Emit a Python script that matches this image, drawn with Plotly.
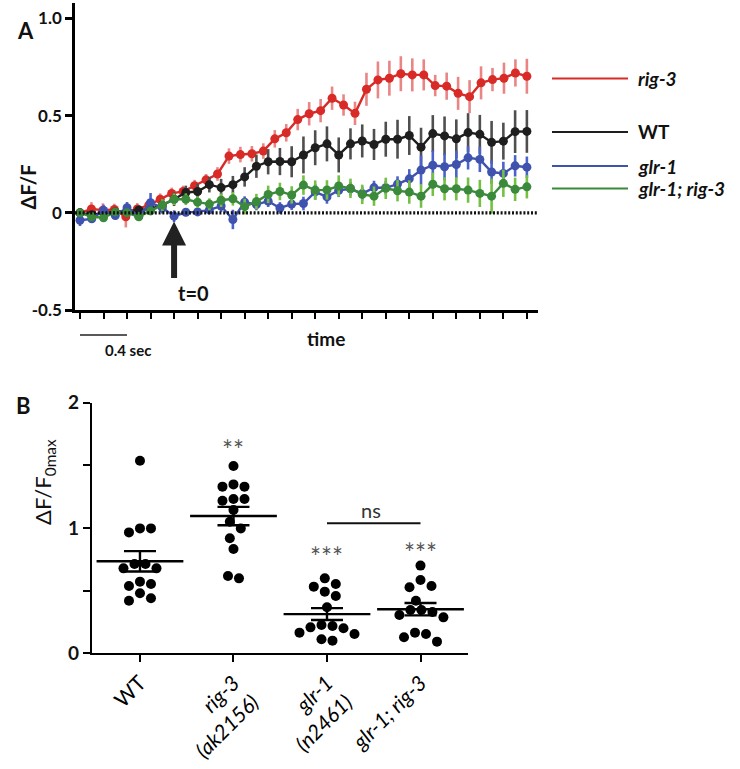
import numpy as np
import plotly.graph_objects as go

# ---------------- Panel A: calcium traces ----------------
# frame times (s); rig-3 was sampled at 40 frames over the same window
t = np.round(np.arange(-0.8, 3.05, 0.1), 1)
t_red = np.linspace(-0.8, 3.0, 40)

rig3 = [0.0, 0.02, 0.014, 0.017, -0.02, 0.02, 0.04, 0.07, 0.10, 0.11,
        0.14, 0.17, 0.20, 0.292, 0.30, 0.304, 0.318, 0.381, 0.412, 0.48,
        0.51, 0.526, 0.59, 0.555, 0.512, 0.636, 0.684, 0.693, 0.716, 0.71,
        0.71, 0.655, 0.652, 0.615, 0.598, 0.669, 0.686, 0.693, 0.72, 0.703]
rig3_err = [0.025, 0.035, 0.035, 0.03, 0.055, 0.03, 0.03, 0.03, 0.03, 0.03,
            0.03, 0.03, 0.035, 0.04, 0.04, 0.04, 0.04, 0.045, 0.045, 0.055,
            0.06, 0.06, 0.06, 0.055, 0.06, 0.085, 0.095, 0.09, 0.09, 0.085,
            0.08, 0.055, 0.07, 0.085, 0.085, 0.085, 0.06, 0.08, 0.07, 0.09]

wt = [0.0, -0.01, 0.0, 0.005, 0.01, 0.015, 0.02, 0.04, 0.07, 0.105,
      0.11, 0.145, 0.13, 0.145, 0.185, 0.24, 0.263, 0.264, 0.263, 0.298,
      0.335, 0.355, 0.298, 0.355, 0.37, 0.352, 0.379, 0.379, 0.398, 0.338,
      0.408, 0.396, 0.381, 0.413, 0.404, 0.363, 0.369, 0.418, 0.419]
wt_err = [0.02, 0.02, 0.02, 0.02, 0.02, 0.02, 0.025, 0.03, 0.035, 0.035,
          0.04, 0.04, 0.045, 0.045, 0.05, 0.06, 0.065, 0.07, 0.08, 0.095,
          0.09, 0.09, 0.09, 0.08, 0.085, 0.08, 0.09, 0.1, 0.1, 0.1,
          0.095, 0.1, 0.1, 0.1, 0.1, 0.11, 0.095, 0.11, 0.11]

glr1 = [-0.038, -0.031, 0.012, -0.014, 0.026, -0.017, 0.052, 0.026, -0.017, 0.003,
        0.005, 0.015, 0.035, -0.034, 0.055, 0.043, 0.06, 0.025, 0.045, 0.048,
        0.108, 0.082, 0.116, 0.124, 0.099, 0.13, 0.129, 0.148, 0.175, 0.22,
        0.245, 0.237, 0.249, 0.283, 0.275, 0.21, 0.203, 0.242, 0.235]
glr1_err = [0.03, 0.02, 0.03, 0.02, 0.03, 0.02, 0.05, 0.03, 0.03, 0.02,
            0.02, 0.02, 0.03, 0.05, 0.03, 0.03, 0.03, 0.03, 0.03, 0.035,
            0.04, 0.035, 0.035, 0.035, 0.035, 0.035, 0.035, 0.04, 0.05, 0.075,
            0.075, 0.07, 0.07, 0.06, 0.065, 0.06, 0.06, 0.055, 0.055]

double = [0.0, -0.02, -0.025, 0.005, 0.0, -0.02, 0.01, 0.04, 0.07, 0.07,
          0.055, 0.045, 0.065, 0.072, 0.032, 0.058, 0.095, 0.11, 0.092, 0.143,
          0.117, 0.118, 0.138, 0.126, 0.095, 0.086, 0.126, 0.114, 0.107, 0.086,
          0.147, 0.124, 0.124, 0.117, 0.10, 0.086, 0.152, 0.121, 0.134]
double_err = [0.02, 0.02, 0.02, 0.02, 0.02, 0.02, 0.02, 0.03, 0.03, 0.03,
              0.03, 0.03, 0.035, 0.035, 0.04, 0.04, 0.045, 0.045, 0.045, 0.05,
              0.05, 0.05, 0.055, 0.05, 0.05, 0.05, 0.055, 0.055, 0.06, 0.06,
              0.06, 0.06, 0.06, 0.065, 0.07, 0.09, 0.07, 0.06, 0.06]

series_names = ["rig-3", "WT", "glr-1", "glr-1; rig-3"]
line_colors = ["#d82a27", "#1e1e1e", "#3f53ae", "#3b8a3b"]
err_colors = ["#e98585", "#4f4f4f", "#4a63c9", "#74c043"]

# ---------------- Panel B: peak responses ----------------
groups = ["WT", "<i>rig-3</i><br><i>(ak2156)</i>", "<i>glr-1</i><br><i>(n2461)</i>", "<i>glr-1; rig-3</i>"]
peak_wt = [1.537, 0.997, 0.965, 0.997, 0.713, 0.678, 0.678, 0.713, 0.553, 0.537, 0.572, 0.479, 0.439, 0.42]
peak_rig3 = [1.495, 1.348, 1.33, 1.33, 1.231, 1.218, 1.231, 1.144, 1.05, 0.997, 0.918, 0.832, 0.598, 0.617]
peak_glr1 = [0.598, 0.553, 0.532, 0.492, 0.457, 0.367, 0.226, 0.207, 0.20, 0.218, 0.154, 0.165, 0.101, 0.112]
peak_double = [0.70, 0.537, 0.527, 0.585, 0.42, 0.346, 0.33, 0.346, 0.287, 0.306, 0.154, 0.165, 0.093, 0.128]
peaks = [peak_wt, peak_rig3, peak_glr1, peak_double]
sig_labels = ["", "**", "***", "***"]

W, H = 740, 769
FA = "Lato"

fig = go.Figure()

# panel A traces
for name, tx, y, e, lc, ec in zip(series_names, [t_red, t, t, t],
                                  [rig3, wt, glr1, double],
                                  [rig3_err, wt_err, glr1_err, double_err],
                                  line_colors, err_colors):
    fig.add_trace(go.Scatter(
        x=tx, y=y, name=name, mode="lines+markers",
        line=dict(color=lc, width=2.4),
        marker=dict(color=lc, size=9),
        error_y=dict(type="data", array=e, color=ec, thickness=2.6, width=0),
        xaxis="x", yaxis="y", showlegend=False, hoverinfo="skip"))

# panel B: beeswarm of dots
XPX = 93.5     # px per category
YPX = 125.3    # px per unit
def swarm(vals, d=10.5, step=5.5):
    vals = np.asarray(vals, float)
    ypx = vals * YPX
    order = np.argsort(-vals, kind="stable")
    offs = np.zeros(len(vals))
    placed = []
    cands = [0.0] + [s * c * step for c in range(1, 30) for s in (1, -1)]
    for i in order:
        for c in cands:
            if all((c - px) ** 2 + (ypx[i] - py) ** 2 >= d * d for px, py in placed):
                break
        offs[i] = c
        placed.append((c, ypx[i]))
    clusters, cur = [], [order[0]]
    for a, b in zip(order[:-1], order[1:]):
        if ypx[a] - ypx[b] < d:
            cur.append(b)
        else:
            clusters.append(cur)
            cur = [b]
    clusters.append(cur)
    for cl in clusters:
        offs[cl] -= offs[cl].mean()
    return offs / XPX

for gi, vals in enumerate(peaks):
    fig.add_trace(go.Scatter(
        x=gi + swarm(vals), y=vals, mode="markers",
        marker=dict(color="black", size=10),
        xaxis="x2", yaxis="y2", showlegend=False, hoverinfo="skip"))

means = [float(np.mean(v)) for v in peaks]
sems = [float(np.std(v, ddof=1) / np.sqrt(len(v))) for v in peaks]
fig.add_trace(go.Scatter(
    x=list(range(len(groups))), y=means, mode="markers",
    marker=dict(symbol="line-ew-open", size=62, color="black",
                line=dict(color="black", width=2.4)),
    error_y=dict(type="data", array=sems, color="black", thickness=2.4, width=16),
    xaxis="x2", yaxis="y2", showlegend=False, hoverinfo="skip"))

def px(x): return x / W
def py(y): return 1 - y / H

shapes = []
annotations = []

# zero baseline (dotted)
shapes.append(dict(type="line", xref="x domain", x0=0, x1=1, yref="y", y0=0, y1=0,
                   line=dict(color="#111", width=3.2, dash="2px,1.8px"), layer="above"))

# legend drawn beside the traces
leg_y = [78.5, 132, 166, 188.5]
for name, lc, ly in zip(series_names, line_colors, leg_y):
    shapes.append(dict(type="line", xref="paper", yref="paper",
                       x0=px(552), x1=px(628), y0=py(ly), y1=py(ly),
                       line=dict(color=lc, width=2)))
    txt = name if name == "WT" else "<i>%s</i>" % name
    annotations.append(dict(text="<b>%s</b>" % txt, xref="paper", yref="paper",
                            x=px(636), y=py(ly), xanchor="left", yanchor="middle",
                            showarrow=False, font=dict(family=FA, size=19, color="#111")))

# stimulus arrow and t=0
annotations.append(dict(text="", x=0, y=-0.045, xref="x", yref="y", ax=0, ay=58,
                        showarrow=True, arrowhead=2, arrowsize=0.8, arrowwidth=6,
                        arrowcolor="#222"))
annotations.append(dict(text="<b>t=0</b>", xref="paper", yref="paper", x=px(176), y=py(293),
                        showarrow=False, font=dict(family=FA, size=20, color="#111")))

# time scale bar
shapes.append(dict(type="line", xref="x", x0=-0.8, x1=-0.4, yref="paper",
                   y0=py(335), y1=py(335), line=dict(color="#222", width=1.6)))
annotations.append(dict(text="<b>0.4 sec</b>", xref="paper", yref="paper", x=px(103), y=py(350),
                        showarrow=False, font=dict(family=FA, size=15, color="#111")))
annotations.append(dict(text="<b>time</b>", xref="paper", yref="paper", x=px(326), y=py(339),
                        showarrow=False, font=dict(family=FA, size=19, color="#111")))
annotations.append(dict(text="<b>ΔF/F</b>", xref="paper", yref="paper", x=px(13), y=py(163),
                        textangle=-90, showarrow=False, font=dict(family=FA, size=20, color="#111")))
annotations.append(dict(text="<b>A</b>", xref="paper", yref="paper", x=px(15), y=py(15),
                        showarrow=False, font=dict(family=FA, size=22, color="#111")))
annotations.append(dict(text="<b>B</b>", xref="paper", yref="paper", x=px(14), y=py(405),
                        showarrow=False, font=dict(family=FA, size=22, color="#111")))
annotations.append(dict(text="ΔF/F<sub>0max</sub>", xref="paper", yref="paper", x=px(27), y=py(527),
                        textangle=-90, showarrow=False, font=dict(family=FA, size=22, color="#111")))

# significance marks
sig_y = [0, 1.62, 0.77, 0.80]
for gi, s in enumerate(sig_labels):
    if s:
        annotations.append(dict(text=s, x=gi, y=sig_y[gi], xref="x2", yref="y2",
                                showarrow=False, yanchor="middle",
                                font=dict(family=FA, size=26, color="#555")))
shapes.append(dict(type="line", xref="x2", yref="y2", x0=2, x1=3, y0=1.037, y1=1.037,
                   line=dict(color="#111", width=2)))
annotations.append(dict(text="ns", x=2.47, y=1.14, xref="x2", yref="y2", showarrow=False,
                        font=dict(family=FA, size=20, color="#333")))

axis_common = dict(showgrid=False, zeroline=False, showline=True, linecolor="black",
                   ticks="outside", tickcolor="black", automargin=False)

fig.update_layout(
    template="none",
    width=W, height=H, margin=dict(l=0, r=0, t=0, b=0, pad=0), autosize=False,
    paper_bgcolor="white", plot_bgcolor="white", showlegend=False,
    xaxis=dict(domain=[px(75), px(538)], range=[-0.8425, 3.0946], anchor="y",
               tickmode="linear", tick0=-0.8, dtick=0.2, showticklabels=False,
               linewidth=2.5, ticklen=6, tickwidth=2, **axis_common),
    yaxis=dict(domain=[py(310), py(3)], range=[-0.5, 1.08], anchor="x",
               tickvals=[-0.5, 0, 0.5, 1.0], ticktext=["<b>-0.5</b>", "<b>0</b>", "<b>0.5</b>", "<b>1.0</b>"],
               tickfont=dict(family=FA, size=17, color="#111"),
               linewidth=2.5, ticklen=7, tickwidth=2.5, **axis_common),
    xaxis2=dict(domain=[px(92), px(468)], range=[-0.513, 3.508], anchor="y2",
                tickvals=list(range(len(groups))), ticktext=groups, tickangle=-45,
                tickfont=dict(family=FA, size=21, color="#000"),
                linewidth=2.2, ticklen=7, tickwidth=2.2, **axis_common),
    yaxis2=dict(domain=[py(653.3), py(402.7)], range=[0, 2], anchor="x2",
                tickvals=[0, 0.5, 1, 1.5, 2], ticktext=["<b>0</b>", "", "<b>1</b>", "", "<b>2</b>"],
                tickfont=dict(family=FA, size=19, color="#111"),
                linewidth=2.2, ticklen=7, tickwidth=2.2, **axis_common),
    shapes=shapes, annotations=annotations,
)

# the page's default body margin would shift the figure by 8px
fig.write_html("out.html", config={"displayModeBar": False},
               post_script="document.body.style.margin='0';")
